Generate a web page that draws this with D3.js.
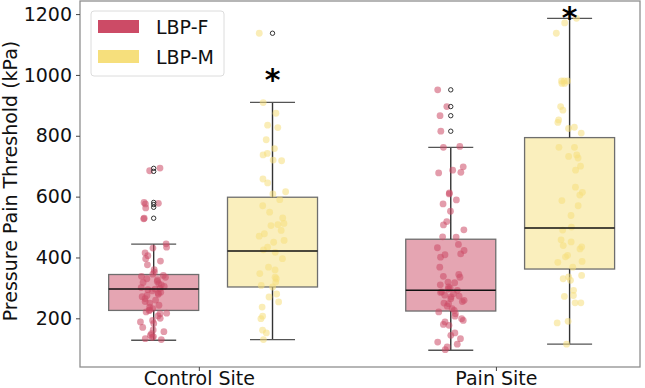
<!DOCTYPE html>
<html>
<head>
<meta charset="utf-8">
<script src="https://cdn.jsdelivr.net/npm/d3@7"></script>
<style>
  body { margin: 0; background: #fff; }
  text { font-family: "DejaVu Sans", sans-serif; }
</style>
</head>
<body>
<div id="chart"></div>
<script>
// sites on the x axis and the two hue groups
const sites = ["Control Site", "Pain Site"];
const hues = ["LBP-F", "LBP-M"];
const hueColors = ["#cc4b66", "#f6df7c"];

// raw points (kPa)
const controlF = [694, 685, 581, 578, 576, 563, 529, 527, 445, 434, 431, 415, 406, 396, 388, 376,
  360, 352, 345, 341, 338, 335, 330, 326, 321, 318, 314, 310, 305, 301, 298, 296,
  294, 290, 286, 282, 279, 275, 271, 265, 260, 255, 250, 243, 237, 232, 228, 225,
  221, 217, 215, 208, 200, 193, 188, 183, 170, 162, 156, 150, 144, 140, 137, 133, 130];
const controlM = [1137, 909, 874, 835, 827, 787, 758, 742, 737, 720, 718, 658, 645, 616, 609, 590,
  570, 549, 530, 512, 508, 505, 489, 478, 470, 456, 450, 434, 425, 417, 396, 368, 359, 347,
  335, 330, 319, 308, 303, 280, 270, 254, 237, 207, 199, 161, 152, 130];
const painF = [951, 896, 866, 815, 765, 762, 698, 687, 680, 678, 612, 609, 589, 576, 552, 518,
  507, 491, 468, 467, 443, 432, 423, 412, 409, 401, 368, 344, 338, 335, 319, 317, 310, 303,
  300, 296, 292, 287, 285, 281, 276, 273, 270, 264, 259, 255, 250, 248, 240, 232, 226, 221,
  215, 207, 199, 193, 188, 180, 177, 152, 144, 133, 122, 115, 106, 97];
const painM = [1186, 1171, 1137, 980, 980, 980, 972, 972, 896, 884, 852, 844, 828, 824, 809, 762,
  762, 737, 732, 727, 700, 687, 631, 614, 605, 587, 570, 538, 500, 490, 458, 451, 439, 435,
  428, 407, 402, 387, 384, 368, 341, 336, 330, 325, 292, 275, 272, 251, 251, 190, 185, 115];

// box statistics in order: controlF, controlM, painF, painM
const q1 = [226, 303, 224, 362];
const medians = [296, 421, 292, 497];
const q3 = [344, 598, 460, 794];
const whiskerLow = [128, 130, 95, 115];
const whiskerHigh = [444, 910, 762, 1186];
const fliers = [[693, 683, 581, 574, 565, 529], [1137], [951, 896, 866, 815], []];

// significance marks above the LBP-M boxes
const starValues = [1010, 1215];

const yTicks = [200, 400, 600, 800, 1000, 1200];

const W = 645, H = 388;
const plot = {left: 80, right: 640, top: 1, bottom: 367};

const svg = d3.select("#chart").append("svg")
  .attr("width", W).attr("height", H);

const x = d3.scaleLinear().domain([-0.4, 1.485]).range([plot.left, plot.right]);
const y = d3.scaleLinear().domain([40, 1243]).range([plot.bottom, plot.top]);

const hueOffset = [-0.152, 0.248];
const boxW = 0.303;

const boxes = [
  {site: 0, hue: 0, values: controlF},
  {site: 0, hue: 1, values: controlM},
  {site: 1, hue: 0, values: painF},
  {site: 1, hue: 1, values: painM}
].map((b, i) => Object.assign(b, {
  q1: q1[i], med: medians[i], q3: q3[i], lo: whiskerLow[i], hi: whiskerHigh[i], fliers: fliers[i],
  cx: b.site + hueOffset[b.hue]
}));

// frame
svg.append("rect")
  .attr("x", plot.left).attr("y", plot.top)
  .attr("width", plot.right - plot.left).attr("height", plot.bottom - plot.top)
  .attr("fill", "none").attr("stroke", "#8f8f8f").attr("stroke-width", 1.3);

// boxes
const g = svg.append("g");
boxes.forEach(b => {
  const c = hueColors[b.hue];
  const x0 = x(b.cx - boxW / 2), x1 = x(b.cx + boxW / 2);
  const capHalf = (x1 - x0) / 4;
  const xc = x(b.cx);

  g.append("rect")
    .attr("x", x0).attr("y", y(b.q3))
    .attr("width", x1 - x0).attr("height", y(b.q1) - y(b.q3))
    .attr("fill", c).attr("fill-opacity", 0.5)
    .attr("stroke", "#6e6e6e").attr("stroke-width", 1.3);

  // whiskers
  g.append("line").attr("x1", xc).attr("x2", xc).attr("y1", y(b.q3)).attr("y2", y(b.hi))
    .attr("stroke", "#333").attr("stroke-width", 1.4);
  g.append("line").attr("x1", xc).attr("x2", xc).attr("y1", y(b.q1)).attr("y2", y(b.lo))
    .attr("stroke", "#333").attr("stroke-width", 1.4);
  [b.hi, b.lo].forEach(v => {
    g.append("line").attr("x1", xc - capHalf).attr("x2", xc + capHalf)
      .attr("y1", y(v)).attr("y2", y(v))
      .attr("stroke", "#555").attr("stroke-width", 1.3);
  });
});

// jittered points
const rng = d3.randomLcg(0.42);
const jitter = d3.randomUniform.source(rng)(-0.045, 0.045);
const pts = svg.append("g");
boxes.forEach(b => {
  pts.selectAll(null)
    .data(b.values)
    .enter().append("circle")
    .attr("cx", () => x(b.cx + jitter()))
    .attr("cy", d => y(d))
    .attr("r", 3.4)
    .attr("fill", hueColors[b.hue])
    .attr("fill-opacity", 0.55);
});

// medians and fliers on top
boxes.forEach(b => {
  const x0 = x(b.cx - boxW / 2), x1 = x(b.cx + boxW / 2);
  svg.append("line").attr("x1", x0).attr("x2", x1)
    .attr("y1", y(b.med)).attr("y2", y(b.med))
    .attr("stroke", "#111").attr("stroke-width", 1.5);
  svg.selectAll(null)
    .data(b.fliers)
    .enter().append("circle")
    .attr("cx", x(b.cx))
    .attr("cy", d => y(d))
    .attr("r", 2.2)
    .attr("fill", "none")
    .attr("stroke", "#333")
    .attr("stroke-width", 1);
});

// asterisks
svg.selectAll(".star")
  .data(starValues)
  .enter().append("text")
  .attr("class", "star")
  .attr("x", (d, i) => x(i + hueOffset[1]))
  .attr("y", d => y(d) + 18)
  .attr("text-anchor", "middle")
  .attr("font-size", 30)
  .attr("font-weight", "bold")
  .text("*");

// axes
const yAxis = svg.append("g")
  .attr("transform", `translate(${plot.left},0)`)
  .call(d3.axisLeft(y).tickValues(yTicks).tickFormat(d3.format("d")).tickSize(4).tickPadding(4));
yAxis.select(".domain").remove();
yAxis.selectAll("text").attr("font-size", 19).attr("fill", "#111").attr("font-family", "DejaVu Sans");
yAxis.selectAll("line").attr("stroke", "#444");

const xAxis = svg.append("g")
  .attr("transform", `translate(0,${plot.bottom})`)
  .call(d3.axisBottom(x).tickValues([0, 1]).tickFormat((d, i) => sites[i]).tickSize(4).tickPadding(1));
xAxis.select(".domain").remove();
xAxis.selectAll("text").attr("font-size", 19).attr("fill", "#111").attr("font-family", "DejaVu Sans");
xAxis.selectAll("line").attr("stroke", "#444");

// y label
svg.append("text")
  .attr("transform", `translate(17,${(plot.top + plot.bottom) / 2 - 3}) rotate(-90)`)
  .attr("text-anchor", "middle")
  .attr("font-size", 19)
  .attr("fill", "#111")
  .text("Pressure Pain Threshold (kPa)");

// legend
const leg = svg.append("g").attr("transform", "translate(91,11)");
leg.append("rect")
  .attr("width", 133).attr("height", 65).attr("rx", 3)
  .attr("fill", "#fff").attr("fill-opacity", 0.8)
  .attr("stroke", "#dcdcdc");
hues.forEach((h, i) => {
  leg.append("rect")
    .attr("x", 7).attr("y", 9 + i * 30)
    .attr("width", 41).attr("height", 13)
    .attr("fill", hueColors[i]);
  leg.append("text")
    .attr("x", 65).attr("y", 23 + i * 30)
    .attr("font-size", 19)
    .attr("fill", "#111")
    .text(h);
});
</script>
</body>
</html>
